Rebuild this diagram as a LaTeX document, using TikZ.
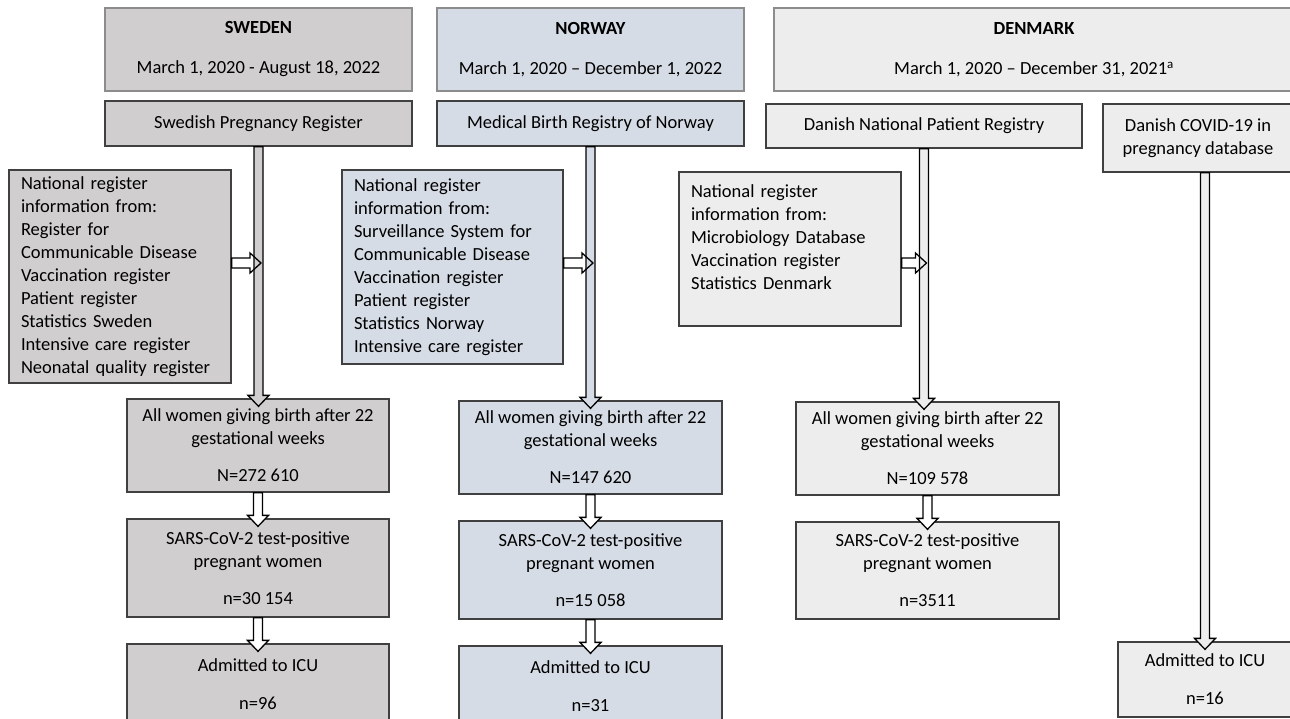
\documentclass[tikz,border=0pt]{standalone}
\usepackage{fontspec}
\setmainfont{Carlito}
\usetikzlibrary{calc}

\definecolor{swefill}{HTML}{D0CECE}
\definecolor{norfill}{HTML}{D6DCE5}
\definecolor{denfill}{HTML}{EDEDED}

\begin{document}
\begin{tikzpicture}[x=1pt, y=-1pt,
    box/.style={rectangle, draw=black!75, line width=1.3pt, inner sep=0pt, align=center, font=\fontsize{18.5}{23}\selectfont},
    titlebox/.style={box, draw=black!45},
    infobox/.style={box, align=left, inner xsep=12pt},
    varrow/.style={draw=black, line width=1.3pt, fill=#1, to path={let \p1=(\tikztostart), \p2=(\tikztotarget) in
        (\x1-4.5pt,\y1) -- (\x1-4.5pt,\y2+11pt) -- (\x1-10.5pt,\y2+11pt) -- (\x1,\y2) -- (\x1+10.5pt,\y2+11pt) -- (\x1+4.5pt,\y2+11pt) -- (\x1+4.5pt,\y1) -- cycle}},
    varrow/.default=white,
    harrow/.style={draw=black, line width=1.3pt, to path={let \p1=(\tikztostart), \p2=(\tikztotarget) in
        (\x1,\y2+5pt) -- (\x2-11pt,\y2+5pt) -- (\x2-11pt,\y2+10pt) -- (\x2,\y2) -- (\x2-11pt,\y2-10pt) -- (\x2-11pt,\y2-5pt) -- (\x1,\y2-5pt) -- cycle}}
  ]
    \useasboundingbox (0,0) rectangle (1290,718);
    \clip (0,0) rectangle (1290,718);

    % スウェーデン
    \node[titlebox, fill=swefill, minimum width=307, minimum height=83] (swetitle) at (258.5,49.5) {\textbf{SWEDEN}\\[17pt]March 1, 2020 - August 18, 2022};
    \node[box, fill=swefill, minimum width=307, minimum height=45] (swereg) at (258.5,123.5) {Swedish Pregnancy Register};
    \node[infobox, fill=swefill, text width=198, minimum height=213] (sweinfo) at (120,276.5) {National register\\information from:\\Register for\\Communicable Disease\\Vaccination register\\Patient register\\Statistics Sweden\\Intensive care register\\Neonatal quality register};
    \node[box, fill=swefill, minimum width=262, minimum height=93] (sweall) at (258,445.5) {All women giving birth after 22\\gestational weeks\\[14pt]N=272 610};
    \node[box, fill=swefill, minimum width=262, minimum height=98] (swesars) at (258,568) {SARS-CoV-2 test-positive\\pregnant women\\[14pt]n=30 154};
    \node[box, fill=swefill, minimum width=262, minimum height=80] (sweicu) at (258,684) {Admitted to ICU\\[15pt]n=96};

    % ノルウェー
    \node[titlebox, fill=norfill, minimum width=307, minimum height=83] (nortitle) at (590.5,49.5) {\textbf{NORWAY}\\[17pt]March 1, 2020 – December 1, 2022};
    \node[box, fill=norfill, minimum width=307, minimum height=45] (norreg) at (590.5,123.5) {Medical Birth Registry of Norway};
    \node[infobox, fill=norfill, text width=197, minimum height=194] (norinfo) at (452.5,267) {National register\\information from:\\Surveillance System for\\Communicable Disease\\Vaccination register\\Patient register\\Statistics Norway\\Intensive care register};
    \node[box, fill=norfill, minimum width=263, minimum height=93] (norall) at (590.5,447.5) {All women giving birth after 22\\gestational weeks\\[14pt]N=147 620};
    \node[box, fill=norfill, minimum width=263, minimum height=98] (norsars) at (590.5,570) {SARS-CoV-2 test-positive\\pregnant women\\[14pt]n=15 058};
    \node[box, fill=norfill, minimum width=263, minimum height=80] (noricu) at (590.5,686) {Admitted to ICU\\[15pt]n=31};

    % デンマーク
    \node[titlebox, fill=denfill, minimum width=520, minimum height=83] (dentitle) at (1034,49.5) {\textbf{DENMARK}\\[17pt]March 1, 2020 – December 31, 2021\textsuperscript{a}};
    \node[box, fill=denfill, minimum width=316, minimum height=44] (denreg) at (924,126) {Danish National Patient Registry};
    \node[box, fill=denfill, minimum width=190, minimum height=68] (dendb) at (1198,138) {Danish COVID-19 in\\pregnancy database};
    \node[infobox, fill=denfill, text width=198, minimum height=154] (deninfo) at (790,249) {National register\\information from:\\Microbiology Database\\Vaccination register\\Statistics Denmark\\\mbox{}};
    \node[box, fill=denfill, minimum width=263, minimum height=93] (denall) at (927.5,448.5) {All women giving birth after 22\\gestational weeks\\[14pt]N=109 578};
    \node[box, fill=denfill, minimum width=263, minimum height=97] (densars) at (927.5,570.5) {SARS-CoV-2 test-positive\\pregnant women\\[14pt]n=3511};
    \node[box, fill=denfill, minimum width=174, minimum height=75] (denicu) at (1205,679.5) {Admitted to ICU\\[15pt]n=16};

    % 矢印の先
    \coordinate (swetip) at (261,263);
    \coordinate (nortip) at (593,263);
    \coordinate (dentip) at (926.5,263);

    % 縦の矢印
    \draw[varrow=swefill] (swereg.south) to ($(sweall.north)+(0,8)$);
    \draw[varrow=norfill] (norreg.south) to ($(norall.north)+(0,8)$);
    \draw[varrow=denfill] (denreg.south) to ($(denall.north)+(0,8)$);
    \draw[varrow=denfill] (dendb.south -| denicu.north) to ($(denicu.north)+(0,8)$);
    \draw[varrow] (sweall.south) to ($(swesars.north)+(0,8)$);
    \draw[varrow] (swesars.south) to ($(sweicu.north)+(0,8)$);
    \draw[varrow] (norall.south) to ($(norsars.north)+(0,8)$);
    \draw[varrow] (norsars.south) to ($(noricu.north)+(0,8)$);
    \draw[varrow] (denall.south) to ($(densars.north)+(0,8)$);

    % 横の矢印
    \draw[harrow] (sweinfo.east |- swetip) to (swetip);
    \draw[harrow] (norinfo.east |- nortip) to (nortip);
    \draw[harrow] (deninfo.east |- dentip) to (dentip);
\end{tikzpicture}
\end{document}
